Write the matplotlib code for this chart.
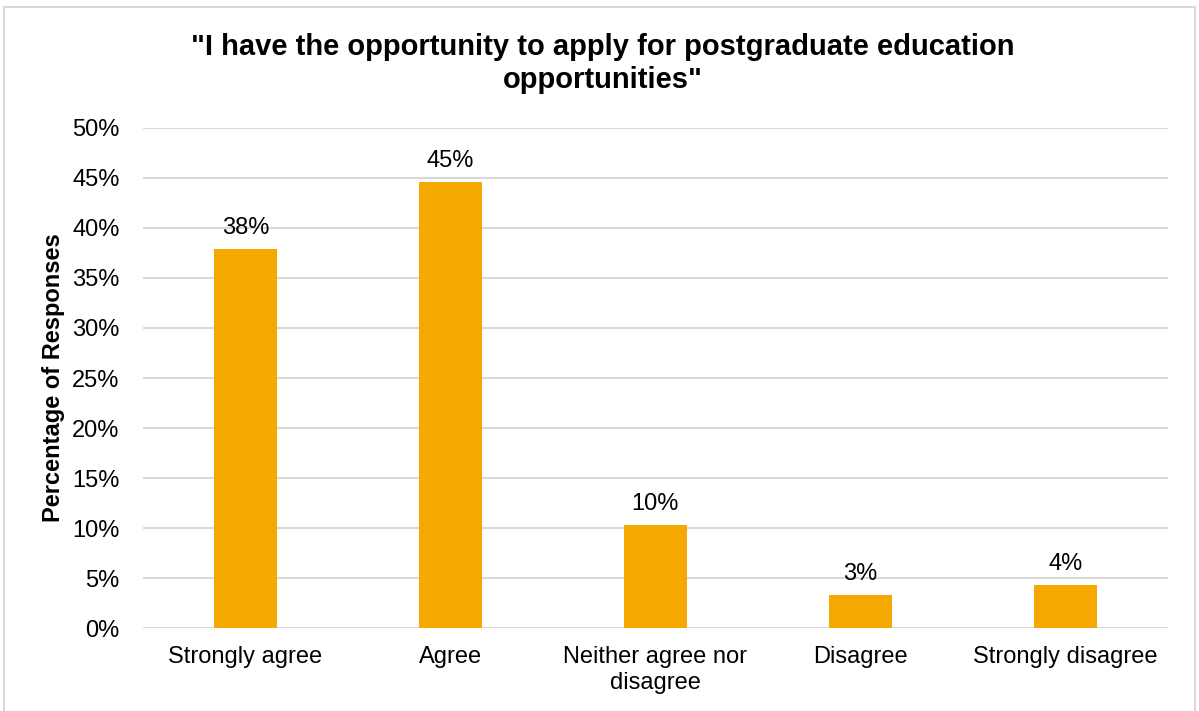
import matplotlib.pyplot as plt
from matplotlib.patches import Rectangle
from matplotlib.ticker import MultipleLocator, FuncFormatter

# Survey responses (share of respondents, %)
categories = ['Strongly agree', 'Agree', 'Neither agree nor\ndisagree', 'Disagree', 'Strongly disagree']
percentages = [37.9, 44.6, 10.3, 3.3, 4.3]

title = '"I have the opportunity to apply for postgraduate education\nopportunities"'

plt.rcParams['font.family'] = ['Liberation Sans', 'DejaVu Sans']

fig = plt.figure(figsize=(11.99, 7.11), dpi=100)
ax = fig.add_axes([0.1193, 0.1167, 0.8547, 0.7033])

# outer chart frame
fig.patches.append(Rectangle((4 / 1199, -0.02), 1191 / 1199, 1 - 7 / 711 + 0.02,
                             transform=fig.transFigure, fill=False,
                             edgecolor='#D9D9D9', linewidth=1.5))

x = range(len(categories))
bars = ax.bar(x, percentages, width=0.31, color='#F5A800', zorder=3)

for rect, val in zip(bars, percentages):
    ax.annotate(f'{round(val):.0f}%', (rect.get_x() + rect.get_width() / 2, val),
                xytext=(0, 7), textcoords='offset points',
                ha='center', va='bottom', fontsize=17, color='#000000')

ax.set_xlim(-0.5, len(categories) - 0.5)
ax.set_ylim(0, 50)
ax.yaxis.set_major_locator(MultipleLocator(5))
ax.yaxis.set_major_formatter(FuncFormatter(lambda v, p: f'{v:.0f}%'))
ax.grid(axis='y', color='#D9D9D9', linewidth=1.5, zorder=0)

ax.set_xticks(list(x))
ax.set_xticklabels(categories, fontsize=17, linespacing=1.25)
ax.tick_params(axis='both', length=0, labelsize=17)
ax.tick_params(axis='x', pad=13)
ax.tick_params(axis='y', pad=17)

for side in ['top', 'right', 'left', 'bottom']:
    ax.spines[side].set_visible(False)

ax.set_ylabel('Percentage of Responses', fontsize=17, fontweight='bold', labelpad=5)
fig.text(0.503, 0.953, title, ha='center', va='top', fontsize=21,
         fontweight='bold', linespacing=1.2)

fig.savefig('out.png', dpi=100)
